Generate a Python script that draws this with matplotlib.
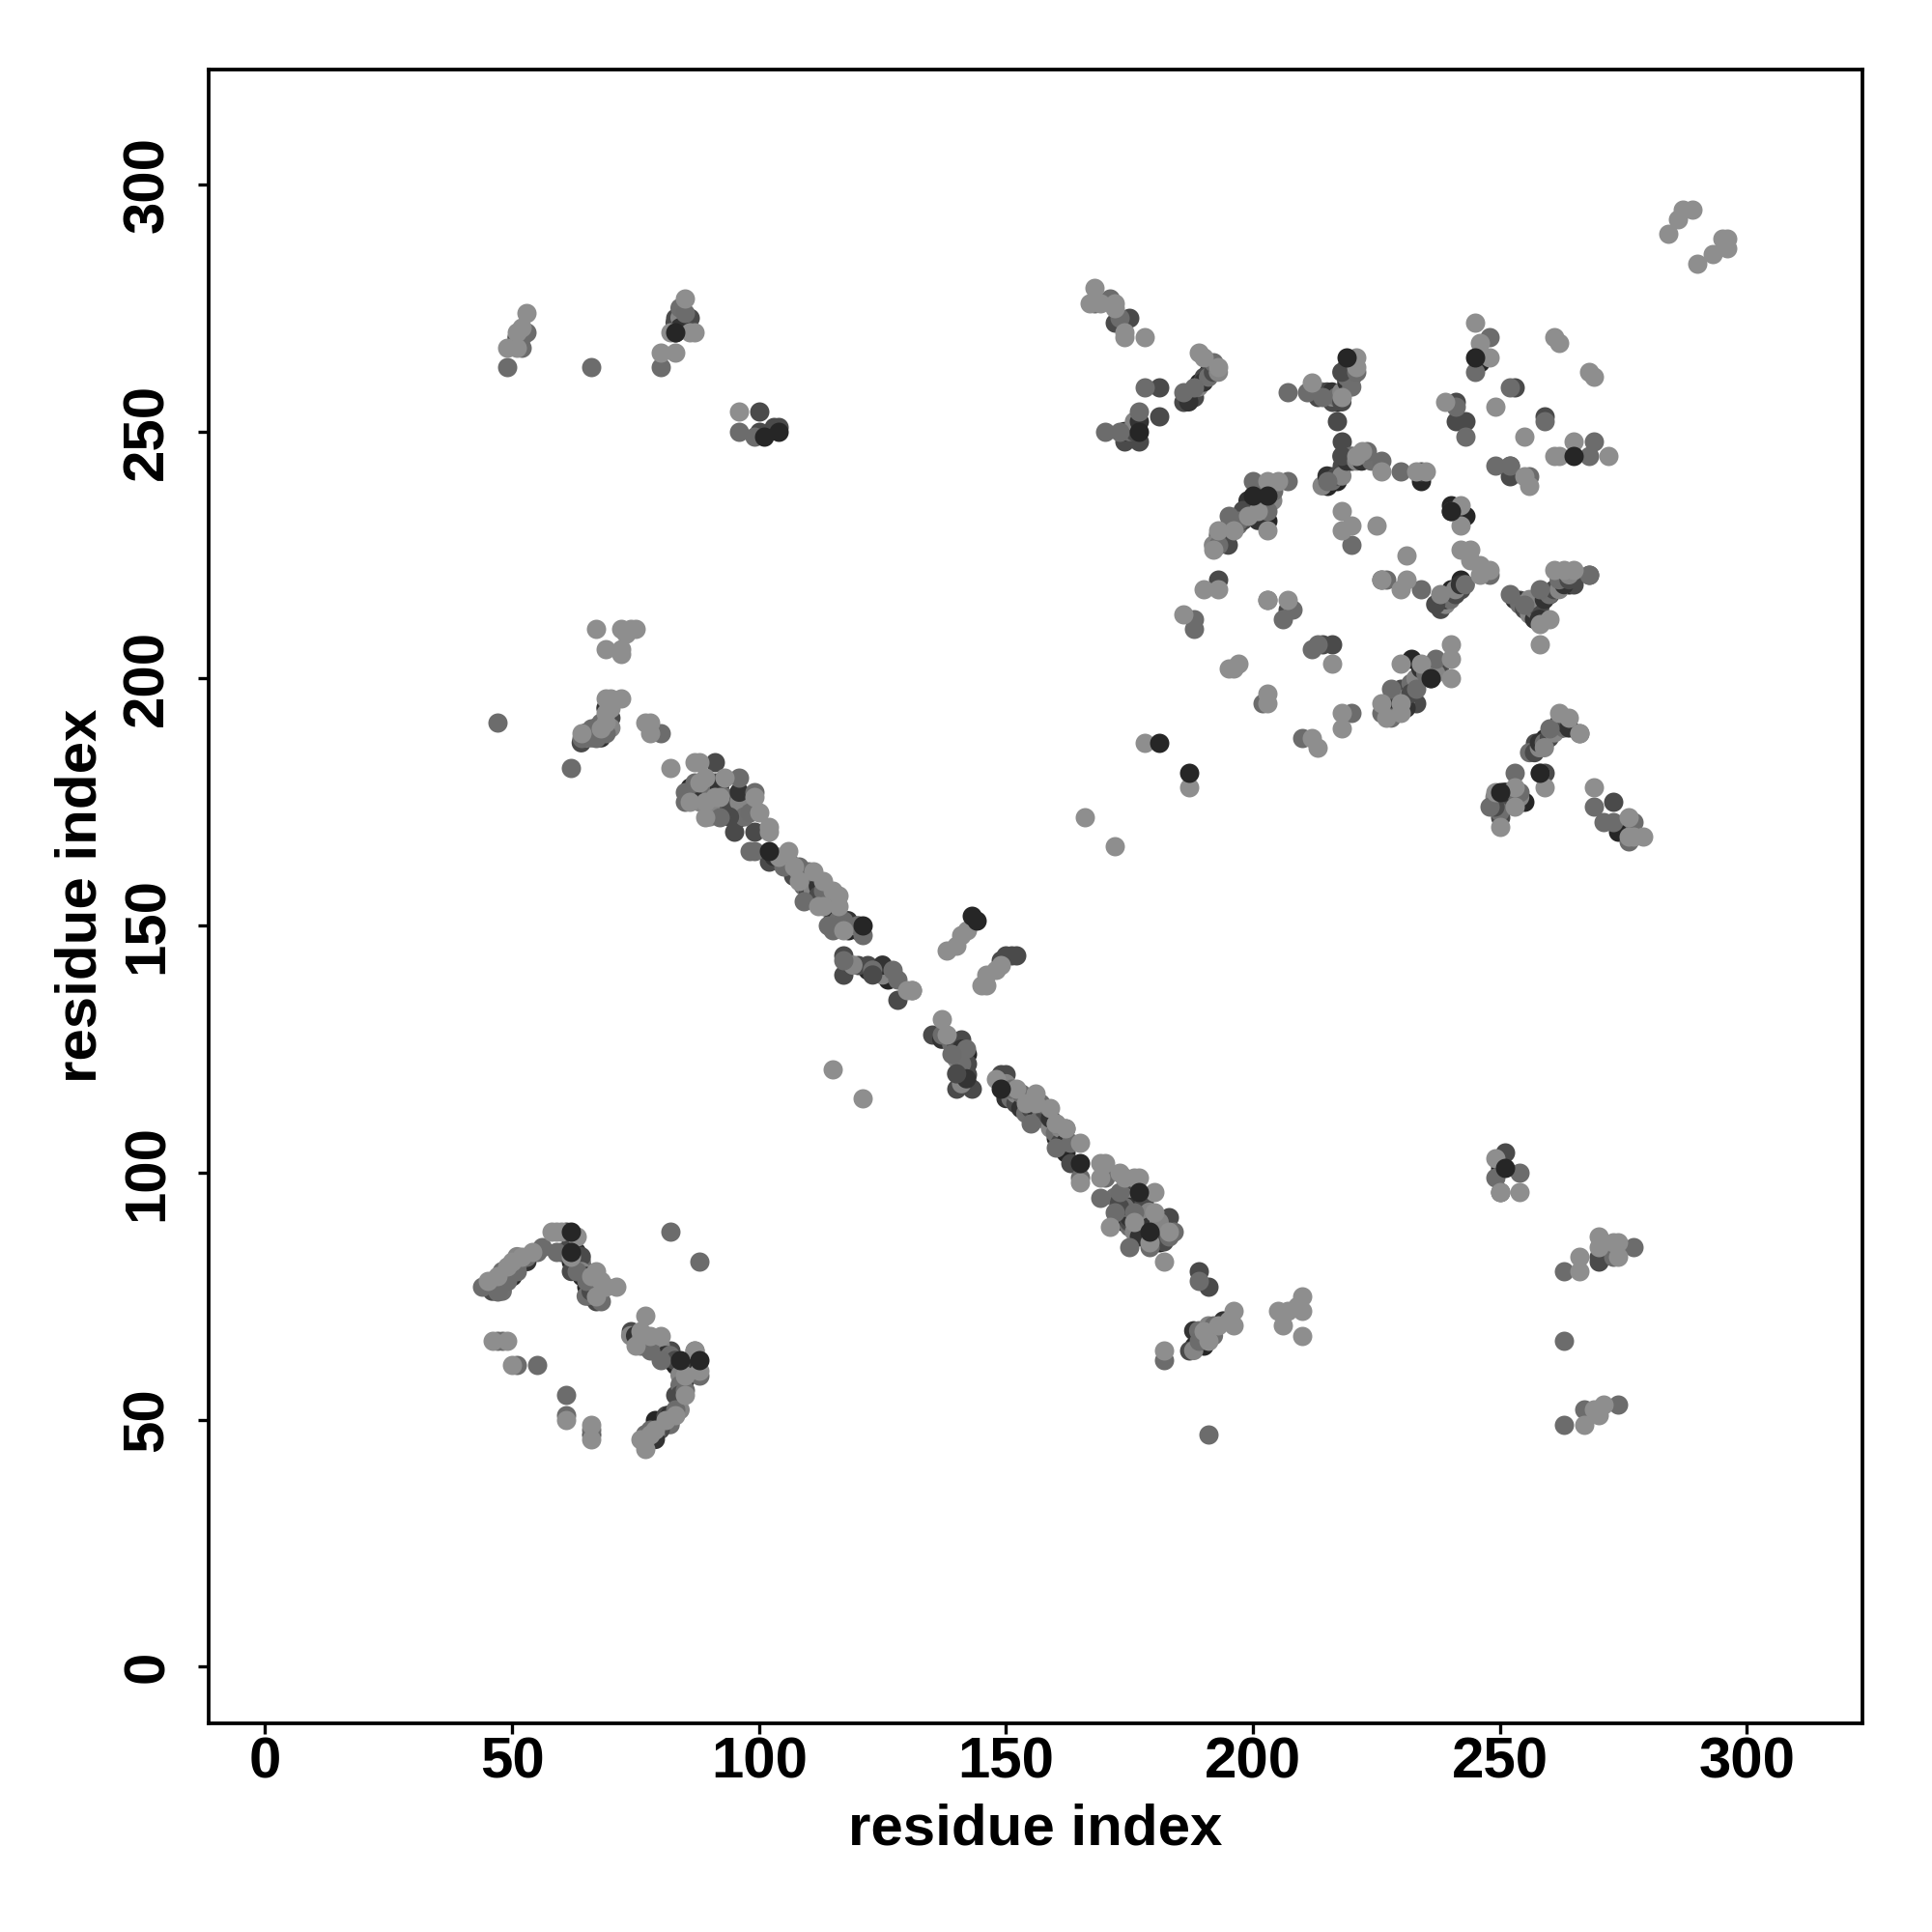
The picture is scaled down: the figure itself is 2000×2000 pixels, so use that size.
import matplotlib
matplotlib.use("Agg")
import matplotlib.pyplot as plt

# contacts by grey level, drawn in this order (darkest under lightest)
black_points = [
    (46,77),(48,78),(50,80),(52,82),(62,86),(61,84),(62,82),(64,79),(65,77),(67,76),
    (76,67),(78,65),(80,64),(82,62),(83,61),(84,60),(86,62),(80,49),(79,50),(78,47),
    (86,178),(87,176),(88,178),(95,175),(96,172),(105,163),(108,160),(110,158),(112,155),(114,154),
    (116,150),(118,149),(120,149),(118,142),(122,141),(124,141),(126,139),(140,125),(141,123),(142,118),
    (149,118),(150,116),(154,113),(156,112),(158,111),(160,107),(162,104),(177,94),(176,90),(178,87),
    (180,87),(181,86),(174,90),(188,65),(187,258),(189,260),(191,262),(215,257),(217,256),(219,262),
    (193,228),(195,231),(197,232),(199,234),(203,232),(240,235),(243,233),(228,196),(230,194),(232,198),
    (234,201),(232,204),(238,216),(240,218),(242,220),(256,215),(258,213),(260,217),(262,219),(264,219),
    (259,188),(261,190),(263,192),(250,176),(255,175),(274,169),(61,84),(50,79),(85,272),(83,270),
    (219,245),(217,240),(215,239),(246,264),(234,240),(265,220),(190,65),(250,101),(272,84),(142,124),
]
dark_points = [
    (61,88),(60,84),(63,82),(64,81),(66,75),(67,74),(74,68),(75,66),(82,64),(84,61),
    (83,55),(81,51),(66,47),(91,183),(91,179),(95,176),(95,173),(95,169),(99,169),(102,163),
    (117,144),(117,140),(120,142),(122,142),(124,141),(128,135),(135,128),(141,127),(142,122),(142,120),
    (140,117),(143,117),(149,120),(150,120),(163,102),(176,96),(183,91),(189,80),(191,77),(187,64),
    (250,103),(251,104),(250,96),(270,83),(270,82),(83,273),(86,273),(100,254),(100,250),(103,251),
    (104,251),(172,272),(175,273),(181,259),(177,248),(181,253),(174,248),(186,256),(188,257),(190,261),
    (213,257),(216,256),(217,252),(219,259),(220,261),(218,248),(216,241),(218,243),(220,244),(234,242),
    (207,214),(193,220),(216,207),(214,207),(226,220),(230,198),(233,195),(236,200),(238,203),(243,252),
    (241,252),(252,243),(252,241),(259,253),(253,259),(241,256),(240,234),(238,215),(242,218),(254,216),
    (256,214),(258,215),(265,219),(268,221),(260,189),(262,190),(257,187),(259,181),(250,172),(273,175),
    (150,144),(151,144),(152,144),(149,143),
]
# filler for the dense bands, these are mottled in the picture
dense_points = [
    (46,78),(48,80),(50,81),(51,83),(53,82),(48,76),(46,76),(47,78),(49,80),(51,81),
    (62,85),(63,83),(63,84),(64,82),(64,83),(64,80),(65,79),(65,75),(66,76),(66,78),(67,77),(68,76),(62,80),
    (74,67),(75,67),(76,66),(77,65),(77,67),(78,66),(79,66),(79,64),(80,65),(81,63),(82,63),(83,62),
    (84,59),(85,58),(84,57),(84,55),(84,52),(82,51),(82,49),(80,48),(79,47),(79,46),(77,47),
    (64,187),(65,188),(65,189),(66,188),(67,190),(67,189),(68,188),(68,191),(70,192),(70,190),(69,194),
    (86,176),(87,177),(88,175),(88,177),(90,178),(90,174),(91,175),(92,178),(93,176),(94,174),(96,175),
    (96,177),(97,172),(94,172),(90,172),
    (103,164),(106,163),(107,160),(108,161),(109,160),(109,158),(110,157),(111,157),(112,158),(113,156),
    (114,155),(115,152),(115,151),(116,151),(117,150),(119,150),(118,151),(120,150),(112,156),
    (125,140),(125,142),(123,141),(123,140),(119,142),
    (137,127),(139,126),(140,126),(140,123),(141,125),(141,122),(141,119),(141,118),(142,119),(142,125),(140,120),
    (150,118),(150,115),(151,115),(152,114),(152,116),(153,113),(154,112),(155,113),(155,115),(156,113),
    (157,111),(158,112),(159,109),(159,111),(160,108),(161,106),(161,109),(162,106),
    (172,95),(173,94),(174,95),(175,93),(175,89),(175,90),(176,88),(177,87),(178,90),(178,94),(179,92),
    (179,89),(181,88),(182,86),(181,90),(175,91),(174,93),(173,93),
    (188,64),(188,68),(189,68),(190,66),(191,69),(194,70),(192,67),
    (83,272),(84,273),(84,271),(84,275),(51,269),(52,269),
    (174,250),(175,250),(176,250),(176,252),(177,252),
    (187,257),(188,258),(189,259),(190,260),(191,261),(192,262),(193,262),(187,256),
    (214,258),(215,258),(216,257),(216,258),(217,257),(218,256),(218,258),(219,260),(220,259),(219,263),
    (220,262),(220,263),(219,261),(218,262),
    (214,239),(215,241),(216,240),(217,241),(218,241),(219,244),(220,245),(218,245),(221,244),(222,244),(224,244),
    (194,228),(195,230),(196,231),(197,231),(198,232),(200,233),(201,232),(193,229),(195,227),(192,227),
    (199,236),(201,237),(202,236),(204,236),(202,233),(200,234),(198,234),
    (228,193),(229,194),(229,196),(229,197),(231,196),(231,194),(232,199),(232,197),(233,200),(234,202),
    (235,201),(236,202),(237,201),(227,194),(228,192),
    (238,214),(239,215),(239,216),(240,216),(241,217),(241,218),(242,219),(243,219),(237,215),(238,217),
    (253,216),(254,215),(255,214),(256,213),(257,212),(257,214),(258,214),(256,216),(259,216),(260,217),
    (261,218),(262,218),(263,219),(262,220),(264,220),(264,221),(258,212),
    (256,185),(257,185),(258,186),(258,187),(259,187),(260,188),(261,189),(262,191),(263,190),(263,191),(259,186),(264,190),
    (250,175),(251,175),(249,176),(251,177),(250,173),(249,174),(254,176),
]
mid_points = [
    (44,77),(47,76),(49,78),(51,80),(53,83),(55,84),(56,85),(59,84),(63,80),(65,78),
    (68,74),(76,65),(78,64),(80,62),(85,56),(83,52),(77,46),(78,48),(61,55),(61,51),
    (66,48),(47,66),(48,66),(51,61),(55,61),(82,88),(88,82),(87,64),(88,59),(47,191),
    (64,188),(66,190),(67,188),(69,189),(80,189),(62,182),(85,177),(87,179),(85,175),(92,172),
    (96,180),(99,177),(98,173),(98,165),(99,165),(105,162),(110,161),(109,155),(113,157),(117,151),
    (114,150),(115,149),(121,148),(117,143),(127,141),(128,139),(131,137),(137,128),(139,124),(151,117),
    (153,116),(155,110),(160,110),(160,105),(169,95),(173,96),(172,92),(176,92),(175,85),(179,85),
    (189,78),(182,62),(191,47),(189,66),(192,69),(254,100),(249,99),(263,80),(273,83),(277,85),
    (263,66),(263,49),(267,52),(274,53),(49,263),(52,267),(53,270),(66,263),(80,263),(85,274),
    (96,250),(99,249),(168,276),(171,277),(173,273),(178,259),(170,250),(173,250),(177,254),(186,258),
    (188,259),(192,264),(207,258),(211,258),(214,257),(221,262),(215,240),(223,246),(226,244),(230,242),
    (195,233),(200,240),(193,227),(197,232),(203,234),(204,238),(207,240),(188,212),(188,210),(206,212),
    (203,216),(212,206),(213,207),(202,195),(210,188),(220,193),(226,193),(228,198),(233,198),(237,204),
    (220,227),(227,220),(234,218),(248,221),(245,262),(248,269),(241,255),(243,249),(249,243),(252,243),
    (256,241),(259,252),(268,245),(269,248),(252,217),(255,215),(258,218),(268,221),(266,189),(260,190),
    (248,174),(253,177),(254,177),(269,174),(271,171),(276,167),(273,171),(277,171),(253,181),(252,259),
    (115,156),(108,162),(157,114),(163,106),(165,99),(183,87),(162,109),(184,88),(208,214),(170,99),
]
light_points = [
    (45,78),(47,79),(49,81),(50,82),(52,83),(54,84),(58,88),(59,88),(60,88),(63,87),
    (62,83),(66,79),(67,80),(68,78),(69,77),(71,77),(67,75),(77,71),(76,68),(78,67),
    (80,67),(75,65),(87,64),(85,59),(88,60),(85,55),(83,51),(81,50),(79,48),(78,47),
    (76,46),(77,44),(46,66),(49,66),(50,61),(61,50),(66,49),(66,46),(64,189),(68,190),
    (69,191),(69,193),(70,194),(69,196),(70,196),(72,196),(67,210),(69,206),(72,206),(72,205),
    (72,210),(74,210),(75,210),(73,209),(77,191),(78,191),(78,189),(82,182),(87,183),(88,183),
    (88,179),(89,180),(93,180),(89,175),(89,172),(86,175),(91,176),(92,176),(99,176),(100,173),
    (102,170),(102,169),(106,165),(107,162),(108,159),(111,161),(113,159),(112,154),(113,154),(116,154),
    (115,157),(117,149),(131,137),(130,137),(137,131),(138,128),(148,119),(152,117),(156,116),(154,114),
    (159,113),(160,110),(162,109),(165,106),(165,98),(169,102),(170,102),(169,99),(173,100),(174,99),
    (176,99),(177,99),(180,96),(180,92),(171,89),(176,90),(183,88),(179,86),(182,82),(182,64),
    (190,68),(191,66),(193,69),(196,69),(196,72),(195,70),(205,72),(206,69),(207,72),(210,72),
    (210,75),(209,73),(210,67),(249,103),(250,96),(254,96),(266,80),(266,83),(270,87),(270,85),
    (273,86),(274,86),(274,83),(267,49),(269,52),(270,51),(271,53),(49,267),(51,267),(51,270),
    (52,271),(53,274),(80,266),(83,266),(82,270),(85,277),(86,270),(87,270),(96,254),(168,279),
    (167,276),(169,276),(172,276),(174,270),(174,269),(178,269),(172,275),(189,266),(190,265),(193,263),
    (212,260),(218,257),(221,265),(221,263),(221,245),(222,246),(226,242),(233,242),(235,242),(218,234),
    (218,230),(220,231),(225,231),(231,225),(192,226),(193,230),(196,230),(199,233),(201,234),(203,240),
    (205,240),(203,230),(190,218),(193,218),(186,213),(196,202),(195,202),(197,203),(203,216),(207,216),
    (203,197),(203,195),(216,203),(212,188),(213,186),(218,193),(218,190),(166,172),(172,166),(178,187),
    (187,178),(115,121),(121,115),(138,145),(140,146),(141,148),(142,149),(145,138),(146,138),(146,140),
    (148,141),(149,142),(230,203),(234,203),(240,207),(240,204),(240,200),(226,195),(227,192),(230,195),
    (230,193),(245,272),(246,268),(248,265),(261,269),(262,268),(268,262),(269,261),(239,256),(249,255),
    (255,249),(261,245),(262,245),(265,248),(272,245),(255,241),(256,239),(242,235),(242,231),(242,226),
    (244,226),(246,223),(244,224),(246,221),(248,222),(226,220),(230,218),(231,220),(261,222),(263,222),
    (265,222),(258,207),(260,212),(258,211),(262,193),(264,192),(266,189),(258,181),(259,178),(253,178),
    (249,177),(253,174),(250,170),(269,178),(276,172),(276,168),(277,168),(279,168),(284,290),(286,293),
    (287,295),(289,295),(290,284),(293,286),(296,289),(296,287),(295,289),(116,156),(104,164),(156,114),
]
top_points = [
    (62,88),(62,84),(84,62),(88,62),(83,270),(102,165),(104,250),(121,150),(165,102),(181,187),
    (187,181),(177,250),(200,237),(219,265),(245,265),(265,245),(240,234),(236,200),(250,177),(258,181),
    (251,101),(143,152),(144,151),(177,96),(179,88),(149,117),(101,249),(203,237),
]

grey_levels = ["#262626", "#4a4a4a", "#6c6c6c", "#8e8e8e", "#262626"]
mottled_greys = ["#333333", "#6e6e6e", "#4a4a4a", "#858585"]
tick_values = [0, 50, 100, 150, 200, 250, 300]

plt.rcParams["font.family"] = "Liberation Sans"
plt.rcParams["font.weight"] = "bold"

fig = plt.figure(figsize=(20 / 3, 20 / 3), dpi=300)
ax = fig.add_axes([215.7 / 2000, 1 - 1784 / 2000, (1928 - 215.7) / 2000, (1784 - 71.5) / 2000])

def draw(pts, grey):
    x = [p[0] for p in pts]
    y = [p[1] for p in pts]
    ax.scatter(x, y, s=23, c=grey, linewidths=0, zorder=3)

draw(black_points, grey_levels[0])
draw(dark_points, grey_levels[1])
draw(dense_points, [mottled_greys[i % 4] for i in range(len(dense_points))])
draw(mid_points, grey_levels[2])
draw(light_points, grey_levels[3])
draw(top_points, grey_levels[4])

ax.set_xlim(-11.5, 323.4)
ax.set_ylim(-11.45, 323.35)
ax.set_xticks(tick_values)
ax.set_yticks(tick_values)
ax.tick_params(axis="both", length=2.6, width=0.8, labelsize=14.4)
ax.tick_params(axis="x", pad=0.6)
ax.tick_params(axis="y", pad=5.8)
for lab in ax.get_yticklabels():
    lab.set_rotation(90)
    lab.set_va("center")
for sp in ax.spines.values():
    sp.set_linewidth(0.9)
ax.set_xlabel("residue index", fontsize=14.4, fontweight="bold", labelpad=3.3)
ax.set_ylabel("residue index", fontsize=14.4, fontweight="bold", labelpad=3.5)

fig.savefig("out.png", dpi=300, facecolor="white")
